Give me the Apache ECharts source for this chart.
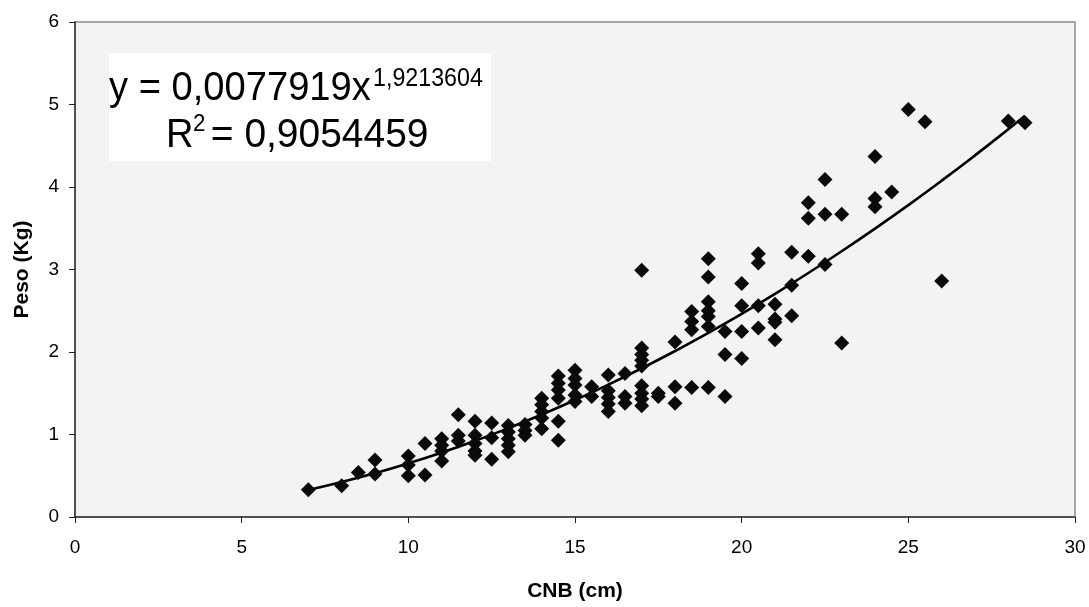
<!DOCTYPE html>
<html>
<head>
<meta charset="utf-8">
<script src="https://cdn.jsdelivr.net/npm/echarts@6/dist/echarts.min.js"></script>
<style>html,body{margin:0;padding:0;background:#fff;}#c{width:1089px;height:607px;}</style>
</head>
<body>
<div id="c"></div>
<script>
// CNB (cm) values and corresponding Peso (Kg) values
const cnb = [
  7, 8, 8.5, 9, 9,
  10, 10, 10, 10.5, 10.5,
  11, 11, 11, 11, 11.5, 11.5, 11.5,
  12, 12, 12, 12, 12, 12.5, 12.5, 12.5,
  13, 13, 13, 13, 13, 13.5, 13.5, 13.5,
  14, 14, 14, 14, 14, 14.5, 14.5, 14.5, 14.5, 14.5, 14.5,
  15, 15, 15, 15, 15, 15.5, 15.5,
  16, 16, 16, 16, 16, 16.5, 16.5, 16.5,
  17, 17, 17, 17, 17, 17, 17, 17, 17, 17.5, 17.5,
  18, 18, 18, 18.5, 18.5, 18.5, 18.5,
  19, 19, 19, 19, 19, 19, 19, 19.5, 19.5, 19.5,
  20, 20, 20, 20, 20.5, 20.5, 20.5, 20.5,
  21, 21, 21, 21, 21.5, 21.5, 21.5,
  22, 22, 22, 22.5, 22.5, 22.5, 23, 23,
  24, 24, 24, 24.5, 25, 25.5, 26, 28, 28.5
];
const peso = [
  0.33, 0.38, 0.54, 0.69, 0.52,
  0.74, 0.63, 0.50, 0.89, 0.51,
  0.95, 0.87, 0.80, 0.68, 1.24, 0.99, 0.92,
  1.16, 0.99, 0.89, 0.80, 0.75, 1.14, 0.96, 0.70,
  1.11, 1.03, 0.95, 0.87, 0.79, 1.12, 1.05, 0.99,
  1.44, 1.36, 1.28, 1.20, 1.07, 1.71, 1.62, 1.54, 1.44, 1.16, 0.93,
  1.78, 1.68, 1.60, 1.48, 1.40, 1.58, 1.46,
  1.72, 1.53, 1.45, 1.37, 1.28, 1.74, 1.46, 1.38,
  2.99, 2.05, 1.97, 1.90, 1.83, 1.59, 1.50, 1.43, 1.35, 1.50, 1.46,
  2.12, 1.58, 1.38, 2.49, 2.37, 2.27, 1.57,
  3.13, 2.91, 2.61, 2.50, 2.43, 2.31, 1.57, 2.25, 1.97, 1.46,
  2.83, 2.56, 2.25, 1.92, 3.19, 3.08, 2.56, 2.29,
  2.58, 2.40, 2.36, 2.15, 3.21, 2.81, 2.44,
  3.81, 3.62, 3.16, 4.09, 3.67, 3.06, 3.67, 2.11,
  4.37, 3.86, 3.76, 3.94, 4.94, 4.79, 2.86, 4.80, 4.78
];
// Power trend line shown on the chart: y = a * x^b
const trendA = 0.0077919;
const trendB = 1.9213604;
const trendX = [7, 8, 9, 10, 11, 12, 13, 14, 15, 16, 17, 18, 19, 20, 21, 22, 23, 24, 25, 26, 27, 28, 28.5];
const eqMain = 'y = 0,0077919x';
const eqSup = '1,9213604';
const r2Label = 'R';
const r2Sup = '2';
const r2Value = ' = 0,9054459';
const xTicks = [0, 5, 10, 15, 20, 25, 30];
const yTicks = [0, 1, 2, 3, 4, 5, 6];

const points = cnb.map((x, i) => [x, peso[i]]);
const trend = trendX.map(x => [x, trendA * Math.pow(x, trendB)]);

const chart = echarts.init(document.getElementById('c'), null, {renderer: 'canvas'});
const font = '"Liberation Sans", Arial, sans-serif';
chart.setOption({
  animation: false,
  backgroundColor: '#ffffff',
  grid: {
    left: 75, right: 14, top: 22, bottom: 88,
    show: true, backgroundColor: '#f3f3f3', borderColor: '#8c8c8c', borderWidth: 1.5
  },
  xAxis: {
    type: 'value', min: xTicks[0], max: xTicks[xTicks.length - 1], interval: 5,
    name: 'CNB (cm)', nameLocation: 'middle', nameGap: 64,
    nameTextStyle: {fontFamily: font, fontWeight: 'bold', fontSize: 21, color: '#000'},
    axisLine: {show: true, lineStyle: {color: '#333', width: 1.5}},
    axisTick: {show: true, inside: false, length: 6, lineStyle: {color: '#222'}},
    axisLabel: {fontFamily: font, fontSize: 19, color: '#000', margin: 21},
    splitLine: {show: false}
  },
  yAxis: {
    type: 'value', min: yTicks[0], max: yTicks[yTicks.length - 1], interval: 1,
    name: 'Peso (Kg)', nameLocation: 'middle', nameGap: 42, nameRotate: 90,
    nameTextStyle: {fontFamily: font, fontWeight: 'bold', fontSize: 21, color: '#000'},
    axisLine: {show: true, lineStyle: {color: '#333', width: 1.5}},
    axisTick: {show: true, inside: false, length: 6, lineStyle: {color: '#222'}},
    axisLabel: {fontFamily: font, fontSize: 19, color: '#000', margin: 16},
    splitLine: {show: false}
  },
  series: [
    {
      type: 'line', data: trend, smooth: true, showSymbol: false, symbol: 'none',
      lineStyle: {color: '#000', width: 2.6}, z: 2
    },
    {
      type: 'scatter', data: points, symbol: 'diamond', symbolSize: 15,
      itemStyle: {color: '#0a0a0a', opacity: 1}, z: 3
    }
  ],
  graphic: [
    {type: 'rect', left: 109, top: 53, shape: {width: 382, height: 108}, style: {fill: '#ffffff'}, z: 10},
    {type: 'text', x: 109, y: 68, scaleX: 0.93, style: {text: eqMain, font: '41px ' + font, fill: '#000'}, z: 11},
    {type: 'text', x: 373, y: 67, scaleX: 0.93, style: {text: eqSup, font: '25px ' + font, fill: '#000'}, z: 11},
    {type: 'text', x: 166, y: 115, scaleX: 0.93, style: {text: r2Label, font: '41px ' + font, fill: '#000'}, z: 11},
    {type: 'text', x: 193, y: 112, scaleX: 0.93, style: {text: r2Sup, font: '24px ' + font, fill: '#000'}, z: 11},
    {type: 'text', x: 200, y: 115, scaleX: 0.95, style: {text: r2Value, font: '41px ' + font, fill: '#000'}, z: 11}
  ]
});
</script>
</body>
</html>
